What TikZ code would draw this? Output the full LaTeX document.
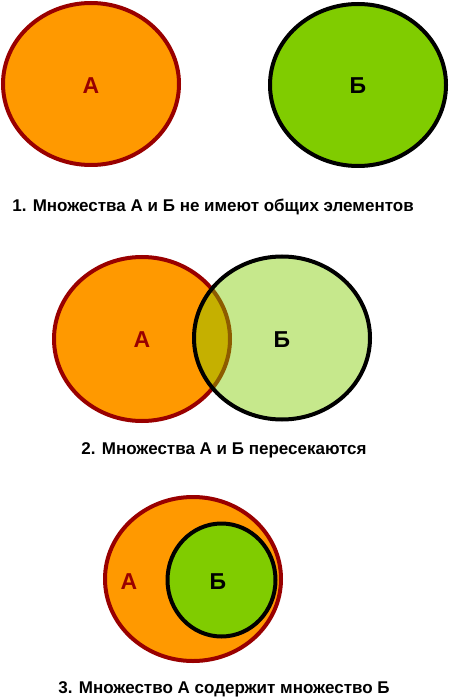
\documentclass[tikz,border=0pt]{standalone}
\usepackage{fontspec}
\setmainfont{Liberation Sans}
\usetikzlibrary{shapes.geometric}
\definecolor{setorange}{RGB}{255,153,0}
\definecolor{setred}{RGB}{153,0,0}
\definecolor{setgreen}{RGB}{128,204,0}
\begin{document}
\begin{tikzpicture}[x=1pt,y=-1pt,
  seta/.style={ellipse, draw=setred, line width=4pt, fill=setorange, inner sep=0pt},
  setb/.style={ellipse, draw=black, line width=4pt, fill=setgreen, inner sep=0pt},
  lbla/.style={font=\fontsize{23}{23}\selectfont\bfseries, text=setred},
  lblb/.style={font=\fontsize{23}{23}\selectfont\bfseries, text=black},
  caption/.style={font=\fontsize{17}{17}\selectfont\bfseries, text=black}]
\useasboundingbox (0,0) rectangle (449,700);
% Row 1
\node[seta, minimum width=176, minimum height=162] (a1) at (91,84) {};
\node[setb, minimum width=176, minimum height=162] (b1) at (358,85) {};
\node[lbla] (la1) at (91,86) {А};
\node[lblb] (lb1) at (358,86) {Б};
\node[caption] (c1) at (213,207) {1. Множества А и Б не имеют общих элементов};
% Row 2
\node[seta, minimum width=176, minimum height=164] (a2) at (142,339) {};
\node[setb, fill opacity=0.45, minimum width=176, minimum height=163] (b2) at (282,338) {};
\node[lbla] (la2) at (142,340) {А};
\node[lblb] (lb2) at (282,340) {Б};
\node[caption] (c2) at (224,450) {2. Множества А и Б пересекаются};
% Row 3
\node[seta, minimum width=176, minimum height=164] (a3) at (193,579) {};
\node[setb, minimum width=108, minimum height=113] (b3) at (221.5,580) {};
\node[lbla] (la3) at (129,582) {А};
\node[lblb] (lb3) at (218,582) {Б};
\node[caption] (c3) at (224,689) {3. Множество А содержит множество Б};
\end{tikzpicture}
\end{document}
